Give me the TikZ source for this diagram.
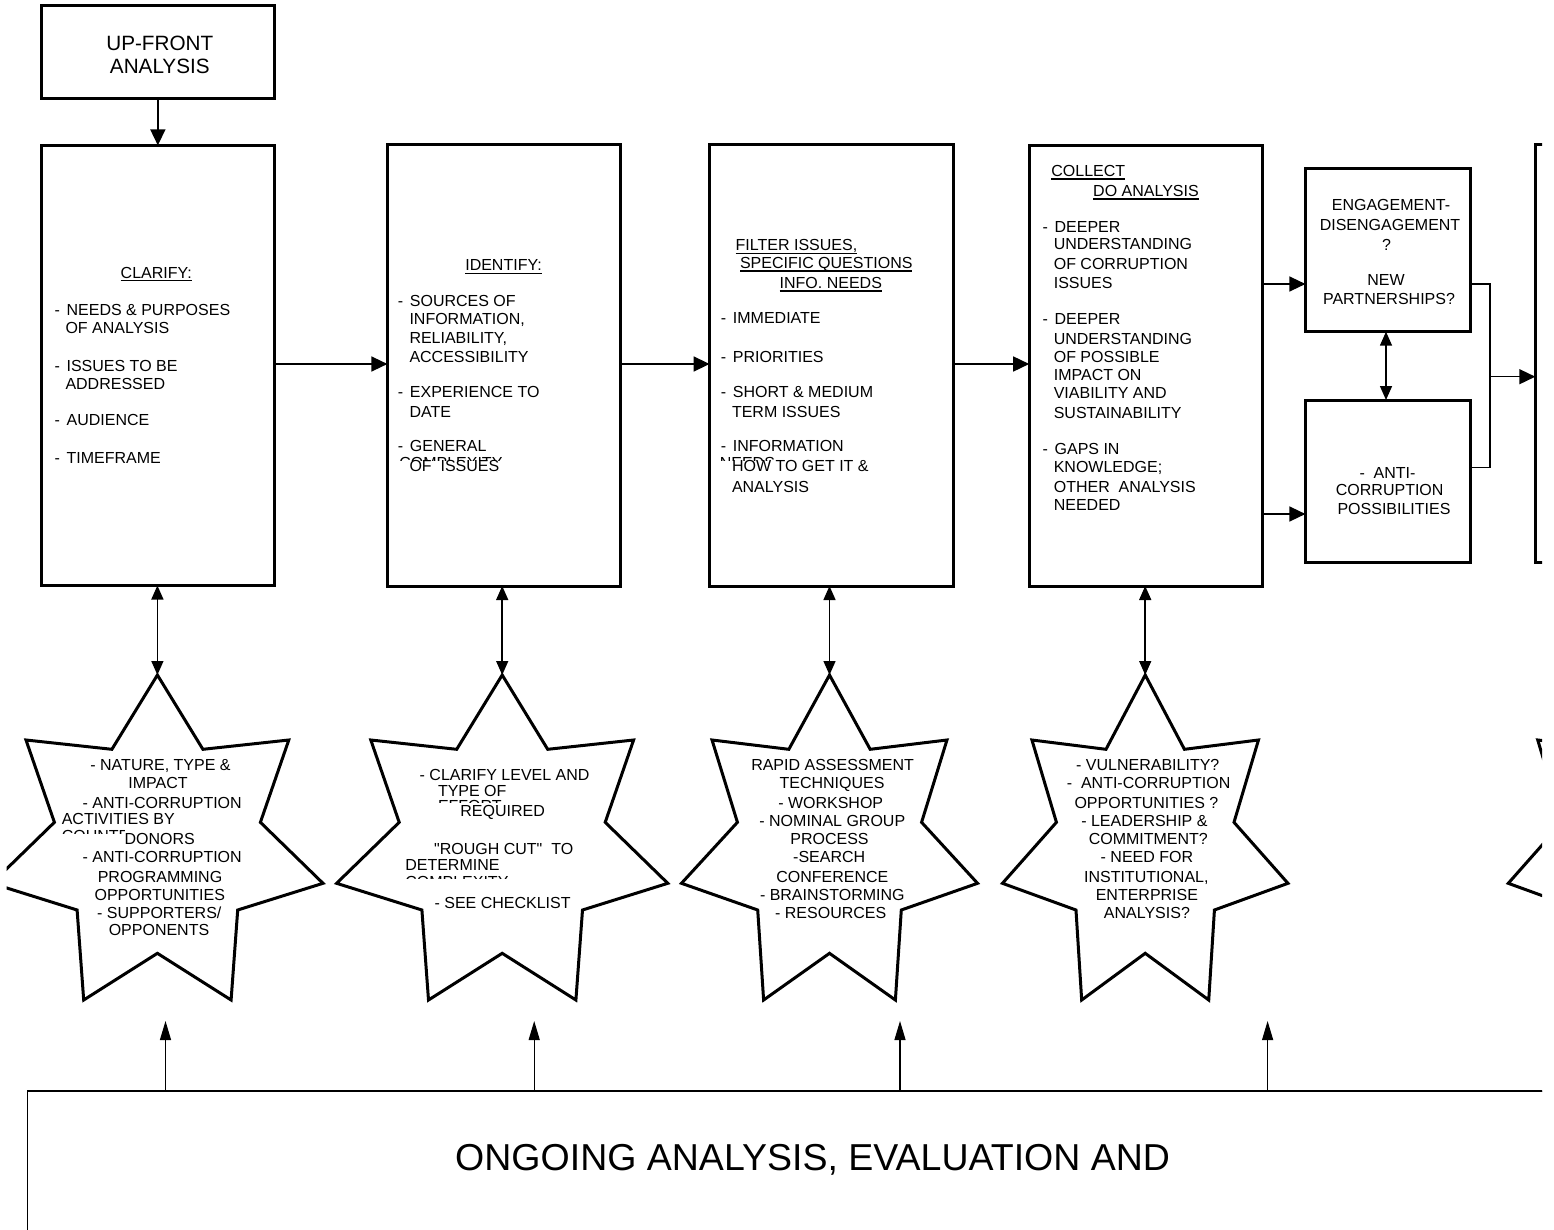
\documentclass[tikz,border=0pt]{standalone}
\usepackage{fontspec}
\setmainfont{Liberation Sans}[Ligatures=TeXOff]
\usetikzlibrary{arrows.meta}
\newcommand\myL[4]{\node[txt,anchor=base west] (#1) at (#2,#3) {#4};}
\newcommand\myC[4]{\node[txt,anchor=base] (#1) at (#2,#3) {#4};}
\newcommand\myD[4]{\node[txt,anchor=base west] (#1) at (#2,#3) {-\kern6.8pt #4};}
\newcommand\myU[1]{\draw[ulw] ([yshift=-2.5pt]#1.base west) -- ([yshift=-2.5pt]#1.base east);}
\newcommand\mystar[2]{\begin{scope}[shift={(#1,675)},xscale=#2]
\draw[starline] (0,0) -- (45.5,74.3) -- (131.4,65) -- (103,147.3) -- (165.6,208.3) -- (80.3,235) -- (73.7,325) -- (0,278.3) -- (-73.7,325) -- (-80.3,235) -- (-165.6,208.3) -- (-103,147.3) -- (-131.4,65) -- (-45.5,74.3) -- cycle;
\end{scope}}
\begin{document}
\begin{tikzpicture}[x=1pt,y=-1pt,
  txt/.style={inner sep=0pt,outer sep=0pt,font=\fontsize{16pt}{19pt}\selectfont},
  bigtxt/.style={inner sep=0pt,outer sep=0pt,font=\fontsize{20.7pt}{24pt}\selectfont},
  hugetxt/.style={inner sep=0pt,outer sep=0pt,font=\fontsize{37.5pt}{42pt}\selectfont},
  box/.style={draw,line width=3pt,inner sep=0pt,outer sep=0pt},
  starline/.style={draw,line width=3pt,fill=white,line join=miter},
  conn/.style={line width=1.5pt,-{Triangle[length=16pt,width=15pt]}},
  dconn/.style={line width=1.5pt,{Triangle[length=14pt,width=12pt]}-{Triangle[length=14pt,width=12pt]}},
  upconn/.style={line width=1.2pt,-{Triangle[length=19pt,width=11pt]}},
  plain/.style={line width=1.5pt},
  ulw/.style={line width=1.3pt}
]
\useasboundingbox[fill=white] (0,0) rectangle (1554,1230);
\begin{scope}
\clip (6.5,-10) rectangle (1542,1240);

% ---------- boxes ----------
\node[box,minimum width=232.3pt,minimum height=93.3pt] (top) at (157.85,52.35) {};
\node[bigtxt,anchor=base] (topa) at (159.8,50.7) {UP-FRONT};
\node[bigtxt,anchor=base] (topb) at (159.8,73.3) {ANALYSIS};

\node[box,minimum width=232.3pt,minimum height=440.1pt] (b1) at (157.85,365.45) {};
\node[box,minimum width=233.3pt,minimum height=441pt] (b2) at (504.05,365.5) {};
\node[box,minimum width=243.4pt,minimum height=441pt] (b3) at (831.3,365.5) {};
\node[box,minimum width=233.3pt,minimum height=440.3pt] (b4) at (1145.85,365.85) {};
\node[box,minimum width=164.9pt,minimum height=163.4pt] (b5) at (1387.85,250) {};
\node[box,minimum width=164.9pt,minimum height=162.3pt] (b6) at (1387.85,481.15) {};
\node[box,minimum width=233pt,minimum height=417.3pt] (b7) at (1651.8,353.65) {};

% ---------- stars ----------
\mystar{157.4}{1}
\mystar{502.2}{1}
\mystar{829.5}{0.894}
\mystar{1145.2}{0.862}
\mystar{1651}{0.862}

% ---------- bottom box ----------
\node[draw,line width=1.2pt,inner sep=0pt,minimum width=1672.2pt,minimum height=208.3pt] (bot) at (863.9,1195.85) {};
\draw[line width=2.2pt] (bot.north west) -- (bot.north east);
\node[hugetxt,anchor=base] (bottxt) at (812.6,1170.1) {ONGOING ANALYSIS, EVALUATION AND};

% ---------- connectors ----------
\coordinate (r1) at (0,364);
\coordinate (r2) at (0,284);
\coordinate (r3) at (0,514);
\coordinate (r4) at (0,467.7);
\coordinate (vx) at (1386,0);
\coordinate (j) at (1490,376.7);
\draw[conn] (top.south) -- (b1.north);
\draw[conn] (b1.east |- r1) -- (b2.west |- r1);
\draw[conn] (b2.east |- r1) -- (b3.west |- r1);
\draw[conn] (b3.east |- r1) -- (b4.west |- r1);
\draw[conn] (b4.east |- r2) -- (b5.west |- r2);
\draw[conn] (b4.east |- r3) -- (b6.west |- r3);
\draw[dconn] (b5.south -| vx) -- (b6.north -| vx);
\draw[plain] (b5.east |- r2) -| (j) |- (b6.east |- r4);
\draw[conn] (j) -- (b7.west |- j);

\coordinate (s1) at (157.4,675);
\coordinate (s2) at (502.2,675);
\coordinate (s3) at (829.5,675);
\coordinate (s4) at (1145.2,675);
\draw[dconn] (b1.south -| s1) -- (s1);
\draw[dconn] (b2.south -| s2) -- (s2);
\draw[dconn] (b3.south -| s3) -- (s3);
\draw[dconn] (b4.south -| s4) -- (s4);

\coordinate (u1) at (165.5,1021);
\coordinate (u2) at (534.2,1021);
\coordinate (u3) at (900,1021);
\coordinate (u4) at (1267.6,1021);
\draw[upconn] (bot.north -| u1) -- (u1);
\draw[upconn] (bot.north -| u2) -- (u2);
\draw[upconn] (bot.north -| u3) -- (u3);
\draw[upconn] (bot.north -| u4) -- (u4);

% ---------- box 1 ----------
\myL{c0}{120.7}{278.2}{CLARIFY:} \myU{c0}
\myD{c1}{54.5}{315.7}{NEEDS \& PURPOSES}
\myL{c2}{65.5}{333.7}{OF ANALYSIS}
\myD{c3}{54.5}{371.9}{ISSUES TO BE}
\myL{c4}{65.5}{389.5}{ADDRESSED}
\myD{c5}{54.5}{425.5}{AUDIENCE}
\myD{c6}{54.5}{463.8}{TIMEFRAME}

% ---------- box 2 ----------
\myL{i0}{465.3}{270.7}{IDENTIFY:} \myU{i0}
\myD{i1}{397.8}{306.4}{SOURCES OF}
\myL{i2}{409.5}{324.7}{INFORMATION,}
\myL{i3}{409.5}{343.7}{RELIABILITY,}
\myL{i4}{409.5}{362.4}{ACCESSIBILITY}
\myD{i5}{397.8}{397.7}{EXPERIENCE TO}
\myL{i6}{409.5}{417.7}{DATE}
\myD{i7}{397.8}{451.7}{GENERAL}
\begin{scope}
\clip (390,450) rectangle (525,460.5);
\myL{i8}{399.3}{468.8}{COMPLEXITY}
\end{scope}
\myL{i9}{409.5}{471.7}{OF\ \ ISSUES}

% ---------- box 3 ----------
\myL{f1}{735.7}{250.7}{FILTER ISSUES,} \myU{f1}
\myL{f2}{740}{268.4}{SPECIFIC QUESTIONS} \myU{f2}
\myL{f3}{779.7}{288.4}{INFO. NEEDS} \myU{f3}
\myD{f4}{720.8}{323.7}{IMMEDIATE}
\myD{f5}{720.8}{362.4}{PRIORITIES}
\myD{f6}{720.8}{397.7}{SHORT \& MEDIUM}
\myL{f7}{732}{417.7}{TERM ISSUES}
\myD{f8}{720.8}{451.7}{INFORMATION}
\begin{scope}
\clip (712,450) rectangle (800,460.5);
\myL{f9}{719.8}{468.8}{NEEDS}
\end{scope}
\myL{f10}{732}{471.7}{HOW TO GET IT \&}
\myL{f11}{732}{492.4}{ANALYSIS}

% ---------- box 4 ----------
\myL{d0}{1051.4}{176.4}{COLLECT} \myU{d0}
\myL{d1}{1093.2}{196.4}{DO ANALYSIS} \myU{d1}
\myD{d2}{1042.5}{232.4}{DEEPER}
\myL{d3}{1053.8}{250}{UNDERSTANDING}
\myL{d4}{1053.8}{269.7}{OF CORRUPTION}
\myL{d5}{1053.8}{288.4}{ISSUES}
\myD{d6}{1042.5}{324.7}{DEEPER}
\myL{d7}{1053.8}{344}{UNDERSTANDING}
\myL{d8}{1053.8}{362.4}{OF POSSIBLE}
\myL{d9}{1053.8}{380}{IMPACT ON}
\myL{d10}{1053.8}{398}{VIABILITY AND}
\myL{d11}{1053.8}{418}{SUSTAINABILITY}
\myD{d12}{1042.5}{454}{GAPS IN}
\myL{d13}{1053.8}{472.4}{KNOWLEDGE;}
\myL{d14}{1053.8}{492.4}{OTHER\ \ ANALYSIS}
\myL{d15}{1053.8}{510}{NEEDED}

% ---------- box 5 / 6 ----------
\myC{e1}{1391}{210.7}{ENGAGEMENT-}
\myC{e2}{1390}{230.7}{DISENGAGEMENT}
\myC{e3}{1386.5}{250.7}{?}
\myC{e4}{1386}{285.7}{NEW}
\myC{e5}{1389}{304.7}{PARTNERSHIPS?}
\myC{a1}{1387.5}{478}{-\ \ ANTI-}
\myC{a2}{1389.7}{495.7}{CORRUPTION}
\myC{a3}{1394}{514}{POSSIBILITIES}

% ---------- star 1 ----------
\myC{p1}{160.5}{770.7}{- NATURE, TYPE \&}
\myC{p2}{158}{788}{IMPACT}
\myC{p3}{162.2}{808.4}{- ANTI-CORRUPTION}
\myL{p4}{61.8}{824}{ACTIVITIES BY}
\begin{scope}
\clip (55,825) rectangle (124,833.3);
\myL{p5}{61.8}{841.5}{COUNTRY}
\end{scope}
\myC{p6}{159.8}{844.7}{DONORS}
\myC{p7}{162.2}{862.4}{- ANTI-CORRUPTION}
\myC{p8}{160}{882.4}{PROGRAMMING}
\myC{p9}{159.8}{900}{OPPORTUNITIES}
\myC{p10}{159.3}{918}{- SUPPORTERS/}
\myC{p11}{159}{935.7}{OPPONENTS}

% ---------- star 2 ----------
\myC{q1}{504.6}{780.7}{- CLARIFY LEVEL AND}
\myL{q2}{438}{796.4}{TYPE OF}
\begin{scope}
\clip (430,795) rectangle (505,802.8);
\myL{q3}{438}{811.5}{EFFORT}
\end{scope}
\myC{q4}{502.6}{816.4}{REQUIRED}
\myC{q5}{503.7}{854.7}{"ROUGH CUT"\ \ TO}
\myL{q6}{405.3}{870}{DETERMINE}
\begin{scope}
\clip (400,870) rectangle (520,878.5);
\myL{q7}{405.3}{887.5}{COMPLEXITY}
\end{scope}
\myC{q8}{502.6}{908}{- SEE CHECKLIST}

% ---------- star 3 ----------
\myC{g1}{832.6}{770.7}{RAPID ASSESSMENT}
\myC{g2}{832}{788.4}{TECHNIQUES}
\myC{g3}{830.7}{808.4}{- WORKSHOP}
\myC{g4}{832.3}{826.7}{- NOMINAL GROUP}
\myC{g5}{829.5}{844.7}{PROCESS}
\myC{g6}{829.2}{862.4}{-SEARCH}
\myC{g7}{832.3}{882.4}{CONFERENCE}
\myC{g8}{832.3}{900.7}{- BRAINSTORMING}
\myC{g9}{830.7}{918}{- RESOURCES}

% ---------- star 4 ----------
\myC{v1}{1147.8}{770.7}{- VULNERABILITY?}
\myC{v2}{1148.6}{788.4}{-\ \ ANTI-CORRUPTION}
\myC{v3}{1146.4}{808.4}{OPPORTUNITIES ?}
\myC{v4}{1144.4}{826.7}{- LEADERSHIP \&}
\myC{v5}{1148.3}{844.7}{COMMITMENT?}
\myC{v6}{1146.9}{862.4}{- NEED FOR}
\myC{v7}{1146.3}{882.4}{INSTITUTIONAL,}
\myC{v8}{1146.9}{900.7}{ENTERPRISE}
\myC{v9}{1146.9}{918}{ANALYSIS?}
\end{scope}
\end{tikzpicture}
\end{document}
